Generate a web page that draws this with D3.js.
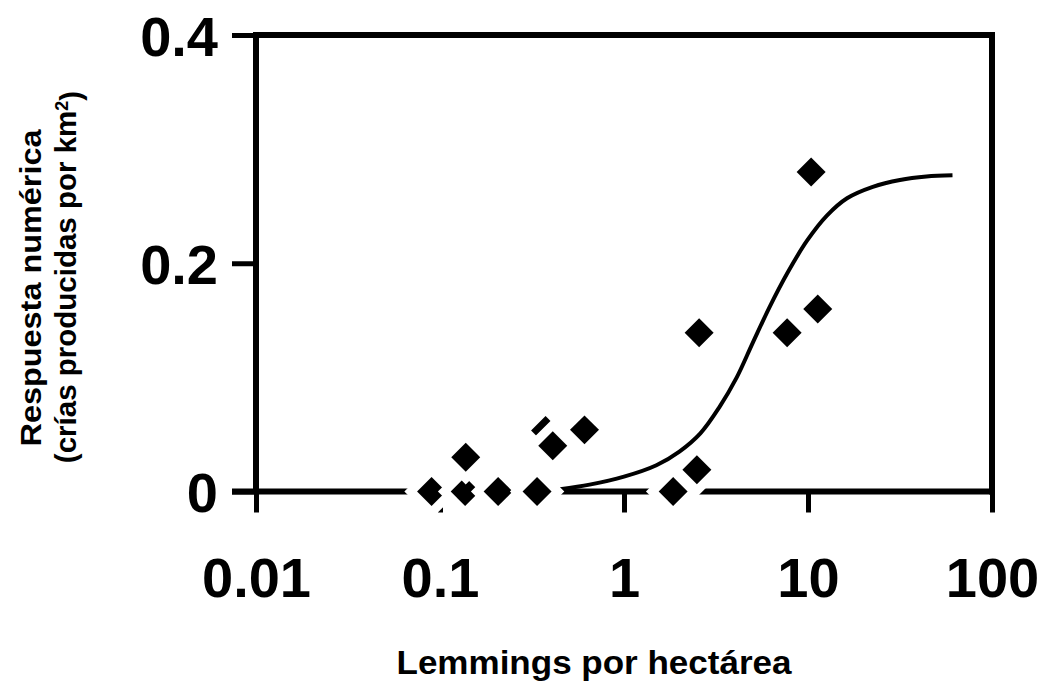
<!DOCTYPE html>
<html>
<head>
<meta charset="utf-8">
<script src="https://cdn.jsdelivr.net/npm/d3@7"></script>
<style>
  html, body { margin: 0; padding: 0; background: #fff; }
  svg { display: block; }
  text { font-family: "Liberation Sans", Arial, Helvetica, sans-serif; font-weight: bold; fill: #000; }
</style>
</head>
<body>
<svg id="chart" width="1048" height="681"></svg>
<script>
// ---- data ----
const pointX = [0.09, 0.137, 0.138, 0.207, 0.337, 0.3746, 0.41, 0.61, 1.85, 2.49, 2.56, 7.7, 10.4, 11.3];
const pointY = [0, 0, 0.030, 0, 0, 0.0534, 0.040, 0.054, 0, 0.019, 0.139, 0.139, 0.280, 0.160];

const curveX = [0.45, 0.65, 1.0, 1.5, 2.0, 2.6, 3.3, 4.1, 5.0, 6.2, 7.7, 9.9, 12.7, 16.3, 22.5, 31.6, 44, 61];
const curveY = [0.002, 0.006, 0.013, 0.023, 0.035, 0.051, 0.074, 0.100, 0.130, 0.162, 0.191, 0.220, 0.242, 0.257, 0.267, 0.273, 0.276, 0.277];

const xTickValues = [0.01, 0.1, 1, 10, 100];
const xTickLabels = ["0.01", "0.1", "1", "10", "100"];
const yTickValues = [0, 0.2, 0.4];
const yTickLabels = ["0", "0.2", "0.4"];

const xTitle = "Lemmings por hectárea";
const yTitle1 = "Respuesta numérica";
const yTitle2a = "(crías producidas por km";
const yTitle2sup = "2";
const yTitle2b = ")";

// ---- layout ----
const svg = d3.select("#chart");
const x = d3.scaleLog().domain([0.01, 100]).range([256, 992]);
const y = d3.scaleLinear().domain([0, 0.4]).range([491.5, 35]);

// frame (top + right)
const frame = svg.append("g").attr("stroke", "#000").attr("stroke-width", 6).attr("fill", "none");
frame.append("path")
  .attr("d", `M${x(0.01)},${y(0.4)} H${x(100)} V${y(0)}`)
  .attr("stroke-linejoin", "miter").attr("stroke-linecap", "square");
// left axis line
frame.append("line").attr("x1", x(0.01)).attr("x2", x(0.01)).attr("y1", y(0.4)).attr("y2", y(0));
// bottom axis line (extends to tick end on left)
frame.append("line").attr("x1", x(0.01) - 24).attr("x2", x(100) + 3).attr("y1", y(0)).attr("y2", y(0));

// x axis ticks & labels
const xAxis = d3.axisBottom(x).tickValues(xTickValues).tickSize(21).tickSizeOuter(0)
  .tickFormat((d, i) => xTickLabels[i]);
const gx = svg.append("g").attr("transform", `translate(0,${y(0)})`).call(xAxis);
gx.select(".domain").remove();
gx.selectAll(".tick line").attr("stroke", "#000").attr("stroke-width", 5);
gx.selectAll(".tick text")
  .attr("y", 105).attr("dy", 0)
  .style("font-size", "56px").style("font-family", '"Liberation Sans", Arial, sans-serif')
  .style("font-weight", "bold").attr("fill", "#000");

// y axis ticks & labels
const yAxis = d3.axisLeft(y).tickValues(yTickValues).tickSize(24).tickSizeOuter(0)
  .tickFormat((d, i) => yTickLabels[i]);
const gy = svg.append("g").attr("transform", `translate(${x(0.01)},0)`).call(yAxis);
gy.select(".domain").remove();
gy.selectAll(".tick line").attr("stroke", "#000").attr("stroke-width", 5);
gy.selectAll(".tick text")
  .attr("x", -38).attr("dy", "0.36em")
  .style("font-size", "56px").style("font-family", '"Liberation Sans", Arial, sans-serif')
  .style("font-weight", "bold").attr("fill", "#000");

// fitted curve
const curveData = curveX.map((v, i) => [v, curveY[i]]);
const line = d3.line().x(d => x(d[0])).y(d => y(d[1])).curve(d3.curveCatmullRom.alpha(0.5));
svg.append("path").datum(curveData)
  .attr("d", line).attr("fill", "none").attr("stroke", "#000").attr("stroke-width", 4);

// markers (diamonds with white halo)
const pts = pointX.map((v, i) => [v, pointY[i]]);
const sym = d3.symbol().type(d3.symbolSquare).size(420);
svg.append("g").selectAll("path").data(pts).join("path")
  .attr("d", sym)
  .attr("transform", d => `translate(${x(d[0])},${y(d[1])}) rotate(45)`)
  .attr("fill", "#000")
  .attr("stroke", "#fff")
  .attr("stroke-width", 18)
  .attr("stroke-linejoin", "miter")
  .style("paint-order", "stroke");

// axis titles
svg.append("text")
  .attr("x", 594).attr("y", 674)
  .attr("text-anchor", "middle")
  .attr("textLength", 395).attr("lengthAdjust", "spacingAndGlyphs")
  .style("font-size", "34px")
  .text(xTitle);

svg.append("text")
  .attr("transform", "translate(41,288) rotate(-90)")
  .attr("text-anchor", "middle")
  .attr("textLength", 317).attr("lengthAdjust", "spacingAndGlyphs")
  .style("font-size", "30px")
  .text(yTitle1);

const t2 = svg.append("text")
  .attr("transform", "translate(76,277) rotate(-90)")
  .attr("text-anchor", "middle")
  .style("font-size", "29.5px");
t2.append("tspan").text(yTitle2a);
t2.append("tspan").attr("dy", "-0.45em").style("font-size", "18px").text(yTitle2sup);
t2.append("tspan").attr("dy", "0.45em").text(yTitle2b);
</script>
</body>
</html>
